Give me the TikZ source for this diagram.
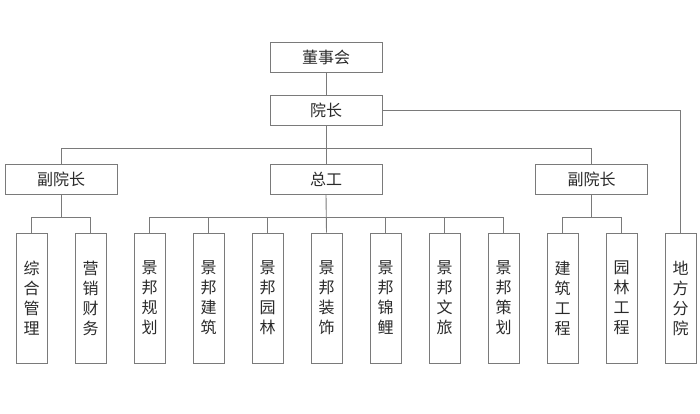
\documentclass[tikz,border=0pt]{standalone}
\usepackage{fontspec}
\newfontfamily\cjk{Noto Sans CJK SC}
\definecolor{edgegray}{HTML}{7A7A7A}
\definecolor{textgray}{HTML}{2A2A2A}
\begin{document}
\begin{tikzpicture}[x=1pt,y=-1pt,
	box/.style={draw=edgegray, line width=0.9pt, minimum width=112pt, minimum height=30pt, inner sep=0pt,
		text=textgray, font=\cjk\fontsize{16}{20}\selectfont},
	unit/.style={box, minimum width=31pt, minimum height=130pt, align=center},
	link/.style={draw=edgegray, line width=0.9pt}]
	\useasboundingbox (0,0) rectangle (700,413);
	
	\node[box] (ds) at (326,57) {董事会};
	\node[box] (yz) at (326,110.5) {院长};
	\node[box] (zg) at (326,179.5) {总工};
	\node[box] (fl) at (61,179.5) {副院长};
	\node[box] (fr) at (591.5,179.5) {副院长};
	
	\foreach \s/\t in {1/综\\合\\管\\理, 2/营\\销\\财\\务, 3/景\\邦\\规\\划, 4/景\\邦\\建\\筑,
		5/景\\邦\\园\\林, 6/景\\邦\\装\\饰, 7/景\\邦\\锦\\鲤, 8/景\\邦\\文\\旅,
		9/景\\邦\\策\\划, 10/建\\筑\\工\\程, 11/园\\林\\工\\程, 12/地\\方\\分\\院}
	{
		\node[unit] (u\s) at ({31.5 + 59*(\s - 1)},298) {\t};
	}
	
	\path[link] (ds) -- (yz);
	\path[link] (yz) -- (zg);
	\path[link] (yz.east) -| (u12.north);
	\path[link] (fl.north) -- ++(0,-16) -| (fr.north);
	
	\path[link] (u1.north) -- ++(0,-15) coordinate (c1) -| (u2.north);
	\path[link] (fl.south) -- (fl.south |- c1);
	\path[link] (u3.north) -- ++(0,-15) coordinate (c2) -| (u9.north);
	\path[link] (zg.south) -- (u6.north);
	\foreach \s in {4,5,7,8}
	{
		\path[link] (u\s.north) -- (u\s.north |- c2);
	}
	\path[link] (u10.north) -- ++(0,-15) coordinate (c3) -| (u11.north);
	\path[link] (fr.south) -- (fr.south |- c3);
\end{tikzpicture}
\end{document}
